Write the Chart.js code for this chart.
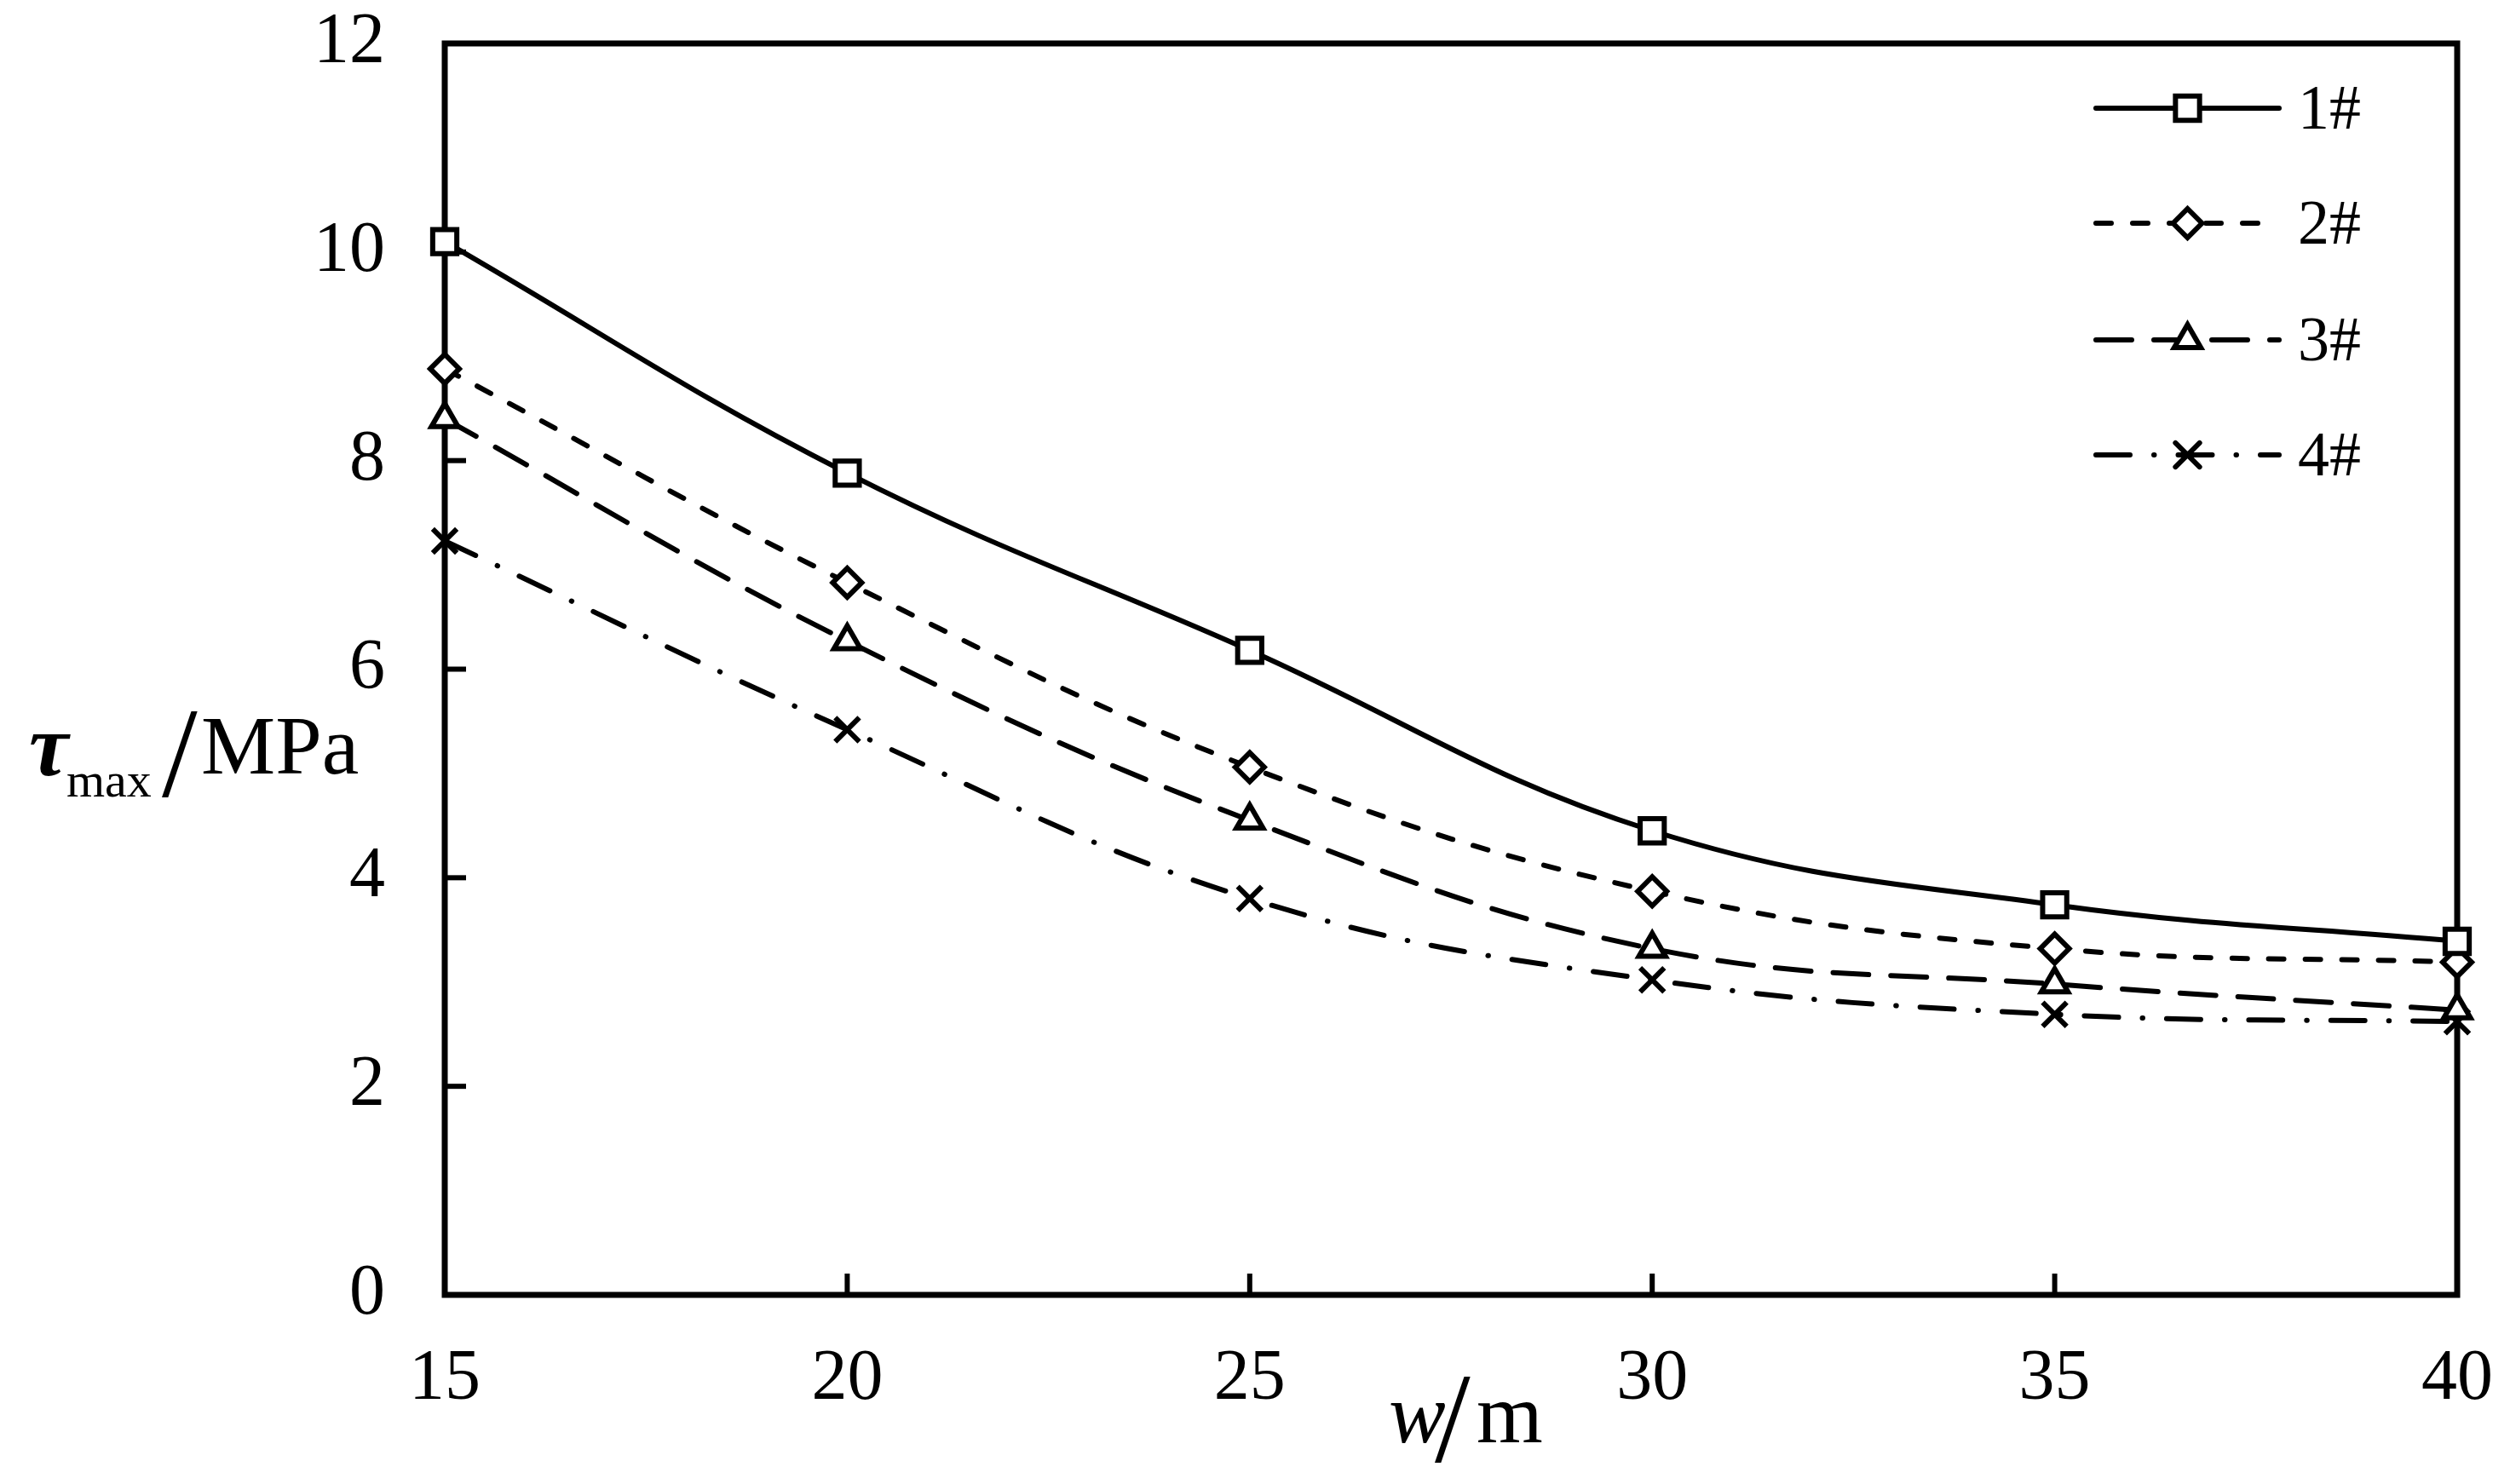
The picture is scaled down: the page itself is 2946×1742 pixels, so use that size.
<!DOCTYPE html>
<html>
<head>
<meta charset="utf-8">
<script src="https://cdn.jsdelivr.net/npm/chart.js@4.4.0/dist/chart.umd.min.js"></script>
<style>
  html, body { margin: 0; padding: 0; background: #fff; }
  #wrap { width: 2946px; height: 1742px; position: relative; }
</style>
</head>
<body>
<div id="wrap"><canvas id="myChart"></canvas></div>
<script>
// w / m
const anchos = [15, 20, 25, 30, 35, 40];
// tau max / MPa
const serie1 = [10.1, 7.88, 6.18, 4.45, 3.74, 3.39];
const serie2 = [8.88, 6.83, 5.06, 3.87, 3.32, 3.19];
const serie3 = [8.40, 6.27, 4.55, 3.32, 2.98, 2.73];
const serie4 = [7.23, 5.42, 3.80, 3.02, 2.69, 2.62];
const etiquetas = ["1#", "2#", "3#", "4#"];
const xTicks = [15, 20, 25, 30, 35, 40];
const yTicks = [0, 2, 4, 6, 8, 10, 12];

const serif = "'Liberation Serif', 'Times New Roman', serif";
const negro = "#000";

function puntos(ys) {
    return anchos.map((x, i) => ({ x: x, y: ys[i] }));
}

function serie(label, ys, estilo, radio, dash) {
    return {
        label: label,
        data: puntos(ys),
        borderColor: negro,
        backgroundColor: "#fff",
        borderWidth: 6,
        borderDash: dash,
        borderCapStyle: "round",
        borderJoinStyle: "round",
        tension: 0.4,
        fill: false,
        clip: false,
        pointStyle: estilo,
        pointRadius: radio,
        pointBorderWidth: 6,
        pointBorderColor: negro,
        pointBackgroundColor: "#fff",
    };
}

// frame box and inward tick marks
const marco = {
    id: "marco",
    beforeDatasetsDraw(chart) {
        const { ctx, chartArea: a, scales } = chart;
        ctx.save();
        ctx.strokeStyle = negro;
        ctx.lineWidth = 6;
        xTicks.forEach(v => {
            const px = scales.x.getPixelForValue(v);
            ctx.beginPath();
            ctx.moveTo(px, a.bottom);
            ctx.lineTo(px, a.bottom - 25);
            ctx.stroke();
        });
        yTicks.forEach(v => {
            const py = scales.y.getPixelForValue(v);
            ctx.beginPath();
            ctx.moveTo(a.left, py);
            ctx.lineTo(a.left + 25, py);
            ctx.stroke();
        });
        ctx.lineWidth = 7;
        ctx.strokeRect(a.left, a.top, a.right - a.left, a.bottom - a.top);
        ctx.restore();
    },
};

// axis titles with mixed italic/regular text
const titulos = {
    id: "titulos",
    afterDraw(chart) {
        const ctx = chart.ctx;
        ctx.save();
        ctx.fillStyle = negro;
        ctx.textBaseline = "alphabetic";
        ctx.textAlign = "left";
        // y title
        ctx.font = "bold italic 104px " + serif;
        ctx.fillText("\u03C4", 34, 910);
        ctx.font = "58px " + serif;
        ctx.fillText("max", 78, 935);
        ctx.font = "150px " + serif;
        ctx.fillText("/", 190, 935);
        ctx.font = "98px " + serif;
        ctx.fillText("MPa", 236, 908);
        // x title
        ctx.font = "italic 100px " + serif;
        ctx.fillText("w", 1630, 1693);
        ctx.font = "150px " + serif;
        ctx.fillText("/", 1684, 1716);
        ctx.font = "100px " + serif;
        ctx.fillText("m", 1733, 1693);
        ctx.restore();
    },
};

// legend: line segment + marker + label, inside the plot
const leyenda = {
    id: "leyenda",
    afterDatasetsDraw(chart) {
        const ctx = chart.ctx;
        const x0 = 2460, x1 = 2675, xt = 2697;
        const filas = [127, 262, 399, 534];
        chart.data.datasets.forEach((ds, i) => {
            const y = filas[i];
            ctx.save();
            ctx.strokeStyle = negro;
            ctx.lineWidth = ds.borderWidth;
            ctx.lineCap = "round";
            ctx.setLineDash(ds.borderDash || []);
            ctx.beginPath();
            ctx.moveTo(x0, y);
            ctx.lineTo(x1, y);
            ctx.stroke();
            ctx.setLineDash([]);
            ctx.fillStyle = "#fff";
            ctx.lineWidth = ds.pointBorderWidth;
            Chart.helpers.drawPoint(ctx, {
                pointStyle: ds.pointStyle,
                radius: ds.pointRadius,
                borderWidth: ds.pointBorderWidth,
                rotation: 0,
            }, (x0 + x1) / 2, y);
            ctx.fillStyle = negro;
            ctx.font = "74px " + serif;
            ctx.textBaseline = "alphabetic";
            ctx.fillText(ds.label, xt, y + 24);
            ctx.restore();
        });
    },
};

const ctx = document.getElementById("myChart").getContext("2d");
const myChart = new Chart(ctx, {
    type: "line",
    data: {
        datasets: [
            serie(etiquetas[0], serie1, "rect", 20, []),
            serie(etiquetas[1], serie2, "rectRot", 17, [18, 25]),
            serie(etiquetas[2], serie3, "triangle", 18, [42, 26]),
            serie(etiquetas[3], serie4, "crossRot", 20, [40, 28, 0.5, 28]),
        ],
    },
    options: {
        responsive: true,
        maintainAspectRatio: false,
        animation: false,
        layout: { autoPadding: false, padding: { top: 51, right: 62, left: 0, bottom: 0 } },
        plugins: {
            legend: { display: false },
            tooltip: { enabled: false },
        },
        scales: {
            x: {
                type: "linear",
                min: 15,
                max: 40,
                afterBuildTicks: s => { s.ticks = xTicks.map(v => ({ value: v })); },
                afterFit: s => { s.height = 222; s.paddingLeft = 0; s.paddingRight = 0; },
                grid: { display: false, drawTicks: false },
                border: { display: false },
                ticks: { color: negro, padding: 50, font: { family: serif, size: 84 } },
            },
            y: {
                min: 0,
                max: 12,
                afterBuildTicks: s => { s.ticks = yTicks.map(v => ({ value: v })); },
                afterFit: s => { s.width = 522; s.paddingTop = 0; s.paddingBottom = 0; },
                grid: { display: false, drawTicks: false },
                border: { display: false },
                ticks: { color: negro, padding: 70, font: { family: serif, size: 84 } },
            },
        },
    },
    plugins: [marco, leyenda, titulos],
});
</script>
</body>
</html>
